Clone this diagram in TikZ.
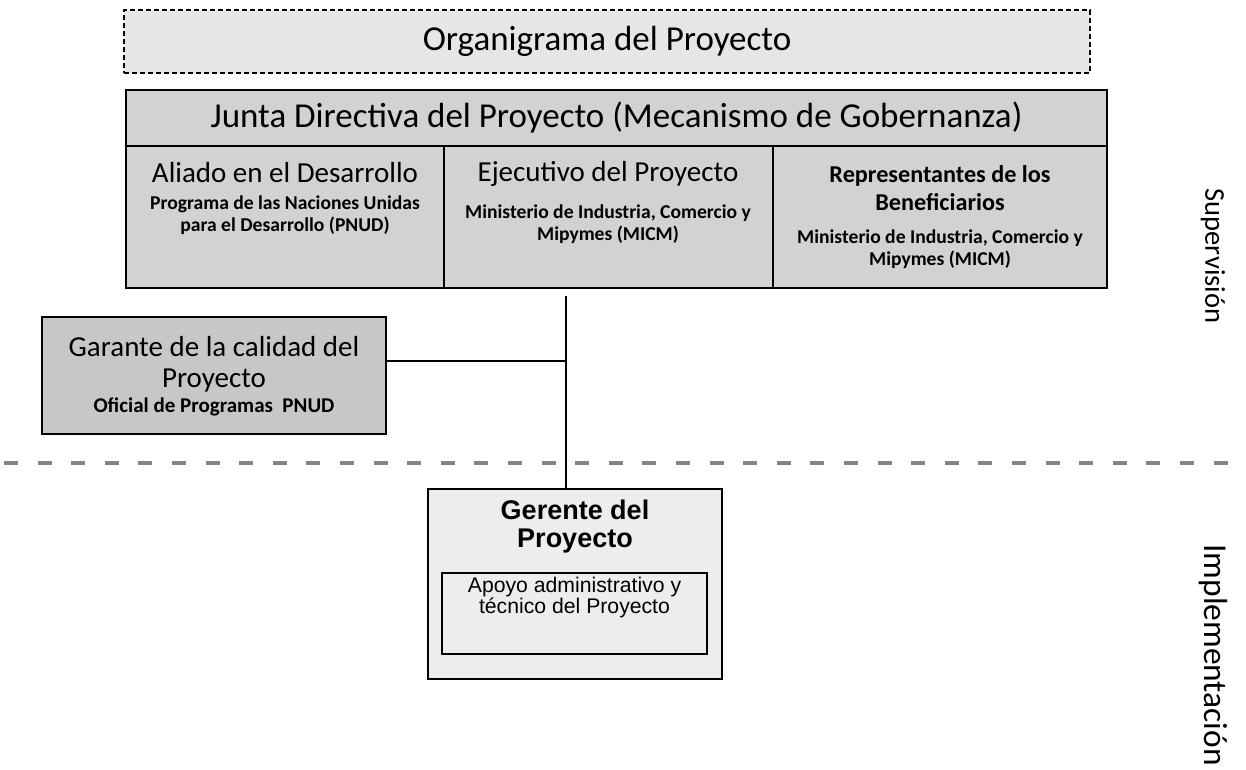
\documentclass[tikz,border=0pt]{standalone}
\usepackage{fontspec}
\setmainfont{Carlito}
\newfontfamily\arialfont{Liberation Sans}
\definecolor{boardgray}{HTML}{D2D2D2}
\definecolor{titlegray}{HTML}{E6E6E6}
\definecolor{mgrgray}{HTML}{EDEDED}
\definecolor{sepgray}{HTML}{858585}
\tikzset{
	box/.style={draw=black, line width=1pt, fill=boardgray, inner sep=0pt},
	heading/.style={font=\fontsize{14.5}{15.5}\selectfont, align=center},
	smalltxt/.style={font=\fontsize{9.8}{11}\selectfont\bfseries, align=center},
	sidetxt/.style={rotate=-90}
}
\begin{document}
\begin{tikzpicture}[x=0.5pt, y=-0.5pt]
	\useasboundingbox (0,0) rectangle (1246,770);

	% title
	\node[draw=black, dash pattern=on 2.5pt off 1.5pt, line width=0.8pt, fill=titlegray,
		minimum width=483pt, minimum height=31.5pt] (title) at (607,41.5)
		{\fontsize{17.5}{20}\selectfont Organigrama del Proyecto};

	% junta directiva
	\node[box, minimum width=490.5pt, minimum height=28pt] (junta) at (616.5,118)
		{\fontsize{17.5}{20}\selectfont Junta Directiva del Proyecto (Mecanismo de Gobernanza)};
	\node[box, minimum width=159pt, minimum height=71pt]   (aliado)    at (285,217)   {};
	\node[box, minimum width=164.5pt, minimum height=71pt] (ejecutivo) at (608.5,217) {};
	\node[box, minimum width=167pt, minimum height=71pt]   (benef)     at (940,217)   {};

	\node[heading]  (aliado-h)    at (285,173) {Aliado en el Desarrollo};
	\node[smalltxt] (aliado-s)    at (285,215) {Programa de las Naciones Unidas\\para el Desarrollo (PNUD)};
	\node[heading]  (ejecutivo-h) at (608,174) {Ejecutivo del Proyecto};
	\node[smalltxt] (ejecutivo-s) at (608,224) {Ministerio de Industria, Comercio y\\Mipymes (MICM)};
	\node[heading, font=\fontsize{12.1}{14}\selectfont\bfseries] (benef-h) at (940,188) {Representantes de los\\Beneficiarios};
	\node[smalltxt] (benef-s)     at (940,249) {Ministerio de Industria, Comercio y\\Mipymes (MICM)};

	% garante
	\node[box, fill=boardgray!95!black, minimum width=172pt, minimum height=58.5pt] (garante) at (214,375.5) {};
	\node[heading] (garante-h) at (214,364) {Garante de la calidad del\\Proyecto};
	\node[smalltxt, font=\fontsize{10.5}{12}\selectfont\bfseries] (garante-s) at (214,407) {Oficial de Programas\ \ PNUD};

	% gerente
	\node[box, fill=mgrgray, minimum width=147pt, minimum height=95pt] (gerente) at (575,584) {};
	\node[font=\arialfont\bfseries\fontsize{13.5}{14}\selectfont, align=center] (gerente-h) at (575,527) {Gerente del\\Proyecto};
	\node[box, fill=mgrgray, line width=0.8pt, minimum width=132.5pt, minimum height=40.5pt] (apoyo) at (574.5,613.5) {};
	\node[font=\arialfont\fontsize{10.6}{10.5}\selectfont, align=center] (apoyo-t) at (574.5,598) {Apoyo administrativo y\\técnico del Proyecto};

	% connectors
	\coordinate (boardfoot) at (566,296);
	\coordinate (junc) at (566,361);
	\path [-, black, line width=1pt] (boardfoot) edge (gerente.north -| boardfoot);
	\path [-, black, line width=1pt] (garante.east |- junc) edge (junc);

	% separator
	\coordinate (sepl) at (0,463);
	\coordinate (sepr) at (1246,463);
	\path [-, sepgray, line width=2pt, dash pattern=on 7pt off 9.8pt, dash phase=-2pt] (sepl) edge (sepr);

	\node[sidetxt, font=\fontsize{14.3}{16}\selectfont] (superv) at (1213,256) {Supervisión};
	\node[sidetxt, font=\fontsize{16.7}{19}\selectfont] (implem) at (1213,655) {Implementación};
\end{tikzpicture}
\end{document}
